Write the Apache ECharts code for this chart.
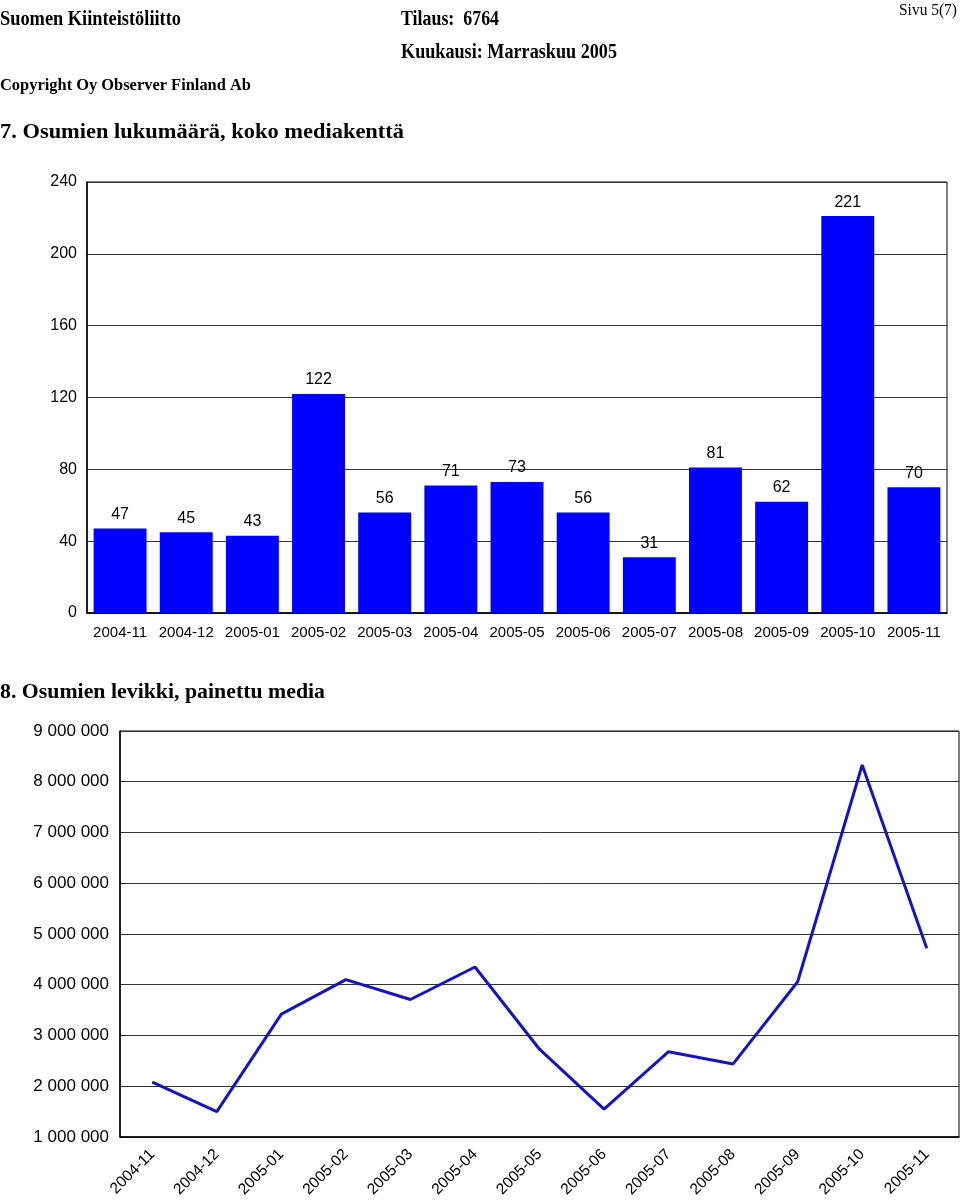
<!DOCTYPE html>
<html><head><meta charset="utf-8">
<script src="https://cdn.jsdelivr.net/npm/echarts@6/dist/echarts.min.js"></script>
<style>html,body{margin:0;padding:0;background:#fff}#c{width:960px;height:1200px}</style>
</head><body><div id="c"></div>
<script>
const months = ["2004-11","2004-12","2005-01","2005-02","2005-03","2005-04","2005-05","2005-06","2005-07","2005-08","2005-09","2005-10","2005-11"];
const hits = [47,45,43,122,56,71,73,56,31,81,62,221,70];
const circulation = [2080000,1500000,3420000,4100000,3710000,4350000,2730000,1550000,2680000,2440000,4060000,8330000,4720000];
const barTicks = [0,40,80,120,160,200,240];
const lineTicks = [1000000,2000000,3000000,4000000,5000000,6000000,7000000,8000000,9000000];

const chart = echarts.init(document.getElementById('c'), null, {renderer:'canvas'});
const serif = '"Liberation Serif", "Times New Roman", serif';
const sans = '"Liberation Sans", Arial, sans-serif';
const fmtSpace = v => String(v).replace(/\B(?=(\d{3})+(?!\d))/g, ' ');

const mctx = document.createElement('canvas').getContext('2d');
function txt(text, font, x, y, targetW, align) {
  mctx.font = font;
  const w = mctx.measureText(text).width;
  return {type:'text', x:x, y:y, scaleX: targetW / w, silent:true,
          style:{text:text, font:font, fill:'#000', x:0, y:0, align:align||'left', verticalAlign:'middle'}};
}

chart.setOption({
  animation:false,
  backgroundColor:'#fff',
  graphic:[
    txt('Suomen Kiinteistöliitto', 'bold 20px '+serif, 0, 20, 181),
    txt('Tilaus:  6764', 'bold 20px '+serif, 401, 20, 98),
    txt('Kuukausi: Marraskuu 2005', 'bold 20px '+serif, 401, 52.6, 216),
    txt('Copyright Oy Observer Finland Ab', 'bold 16px '+serif, 0, 85.4, 251),
    txt('Sivu 5(7)', '16px '+serif, 957, 10.7, 58, 'right'),
    txt('7. Osumien lukumäärä, koko mediakenttä', 'bold 22px '+serif, 0, 132.7, 404),
    txt('8. Osumien levikki, painettu media', 'bold 22px '+serif, 0, 692.7, 325)
  ],
  grid:[
    {left:87, right:13, top:182, bottom:587, show:true, borderColor:'#000', borderWidth:1, containLabel:false},
    {left:120, right:1, top:731, bottom:61, show:true, borderColor:'#000', borderWidth:1, containLabel:false}
  ],
  xAxis:[
    {type:'category', gridIndex:0, data:months, boundaryGap:true,
     axisLine:{lineStyle:{color:'#000',width:1.5}}, axisTick:{show:false},
     axisLabel:{color:'#000', fontFamily:sans, fontSize:15, margin:12, interval:0}},
    {type:'category', gridIndex:1, data:months, boundaryGap:true,
     axisLine:{lineStyle:{color:'#000',width:1.5}}, axisTick:{show:false},
     axisLabel:{color:'#000', fontFamily:sans, fontSize:15.5, margin:15, interval:0, rotate:45}}
  ],
  yAxis:[
    {type:'value', gridIndex:0, min:barTicks[0], max:barTicks[barTicks.length-1], interval:40,
     axisLine:{show:true, lineStyle:{color:'#000',width:1.5}}, axisTick:{show:false},
     splitLine:{lineStyle:{color:'#333',width:1}},
     axisLabel:{color:'#000', fontFamily:sans, fontSize:16, margin:10}},
    {type:'value', gridIndex:1, min:lineTicks[0], max:lineTicks[lineTicks.length-1], interval:1000000,
     axisLine:{show:true, lineStyle:{color:'#000',width:1.5}}, axisTick:{show:false},
     splitLine:{lineStyle:{color:'#333',width:1}},
     axisLabel:{color:'#000', fontFamily:sans, fontSize:17, margin:11, formatter:fmtSpace}}
  ],
  series:[
    {type:'bar', xAxisIndex:0, yAxisIndex:0, data:hits, barCategoryGap:'20%',
     itemStyle:{color:'#0000FF'},
     label:{show:true, position:'top', distance:6, color:'#000', fontFamily:sans, fontSize:16}},
    {type:'line', xAxisIndex:1, yAxisIndex:1, data:circulation, symbol:'none',
     lineStyle:{color:'#1414C0', width:3}}
  ]
});
</script></body></html>
